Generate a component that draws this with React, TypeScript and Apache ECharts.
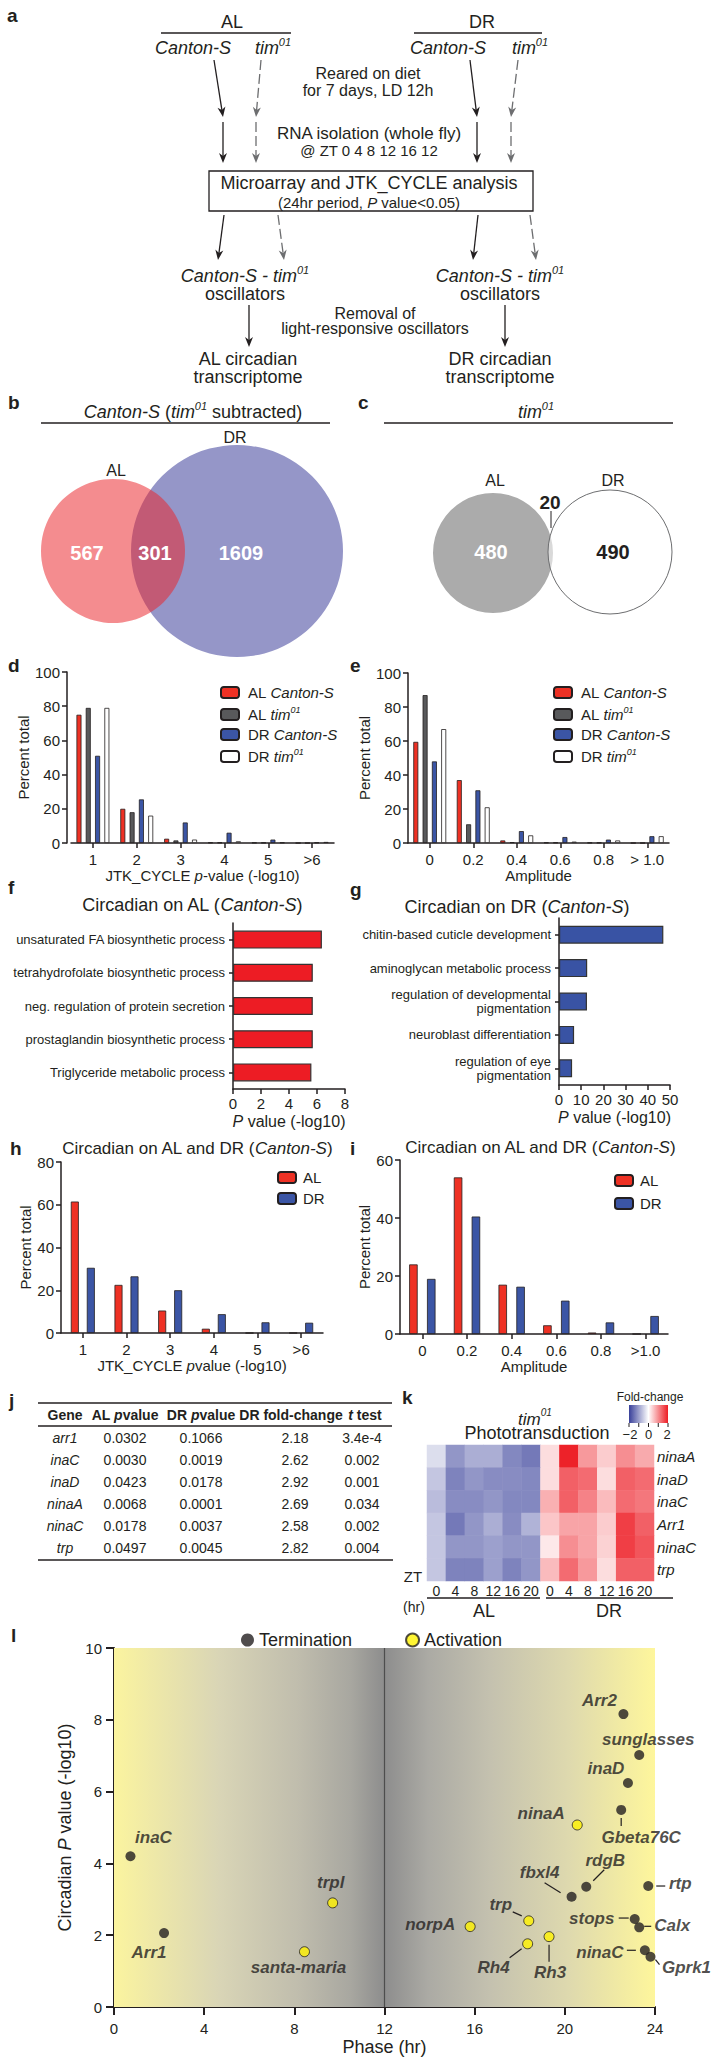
import React, { useEffect, useRef } from 'react';
import * as echarts from 'echarts';

const FONT = "'Liberation Sans', Arial, Helvetica, sans-serif";
const INK = '#231F20';
const RED = '#EE3124';
const GRAY = '#58595B';
const BLUE = '#3B55A5';

// ---------------- data ----------------
const vennBCounts = [567, 301, 1609]; // AL only, shared, DR only
const vennCCounts = [480, 20, 490];

const jtkCats = ['1', '2', '3', '4', '5', '>6'];
const dALCanton = [75, 20, 2.5, 0.3, 0.2, 0];
const dALTim = [79, 18, 1.5, 0.3, 0.2, 0];
const dDRCanton = [51, 25.5, 12, 6, 2, 0.3];
const dDRTim = [79, 16, 2, 1, 0.3, 0.6];

const ampCats = ['0', '0.2', '0.4', '0.6', '0.8', '> 1.0'];
const eALCanton = [59.5, 37, 1.5, 0.3, 0.2, 0];
const eALTim = [87, 11, 0.5, 0.3, 0.2, 0];
const eDRCanton = [48, 31, 7, 3.5, 2, 4];
const eDRTim = [67, 21, 4.5, 0.8, 1.5, 4];

const fTerms = [
  'unsaturated FA biosynthetic process',
  'tetrahydrofolate biosynthetic process',
  'neg. regulation of protein secretion',
  'prostaglandin biosynthetic process',
  'Triglyceride metabolic process',
];
const fValues = [6.35, 5.7, 5.7, 5.7, 5.6];

const gTerms = [
  'chitin-based cuticle development',
  'aminoglycan metabolic process',
  'regulation of developmental\npigmentation',
  'neuroblast differentiation',
  'regulation of eye\npigmentation',
];
const gValues = [47, 12.7, 12.6, 6.8, 5.9];

const hCats = ['1', '2', '3', '4', '5', '>6'];
const hAL = [61.5, 22.5, 10.5, 2, 0, 0];
const hDR = [30.5, 26.5, 20, 8.8, 5, 4.8];

const iCats = ['0', '0.2', '0.4', '0.6', '0.8', '>1.0'];
const iAL = [24, 54, 17, 3, 0.5, 0];
const iDR = [19, 40.5, 16.3, 11.5, 4, 6.2];

const tableGenes = ['arr1', 'inaC', 'inaD', 'ninaA', 'ninaC', 'trp'];
const tableALp = ['0.0302', '0.0030', '0.0423', '0.0068', '0.0178', '0.0497'];
const tableDRp = ['0.1066', '0.0019', '0.0178', '0.0001', '0.0037', '0.0045'];
const tableFold = ['2.18', '2.62', '2.92', '2.69', '2.58', '2.82'];
const tableT = ['3.4e-4', '0.002', '0.001', '0.034', '0.002', '0.004'];

const hmGenes = ['ninaA', 'inaD', 'inaC', 'Arr1', 'ninaC', 'trp'];
const hmCols = ['AL 0', 'AL 4', 'AL 8', 'AL 12', 'AL 16', 'AL 20', 'DR 0', 'DR 4', 'DR 8', 'DR 12', 'DR 16', 'DR 20'];
const hmValues = [
  [-0.35, -1.1, -0.85, -0.85, -1.25, -1.4, 0.3, 1.95, 0.9, 0.45, 1.0, 0.75],
  [-0.6, -1.3, -1.1, -1.2, -1.2, -1.25, 0.3, 1.4, 1.3, 0.3, 1.4, 1.3],
  [-0.7, -1.2, -1.2, -1.1, -1.25, -1.25, 0.7, 1.4, 1.1, 0.6, 1.3, 1.2],
  [-0.6, -1.4, -1.1, -0.85, -1.2, -0.8, 0.5, 0.8, 0.8, 0.45, 1.7, 1.4],
  [-0.6, -1.1, -1.1, -1.0, -1.1, -1.1, 0.2, 1.0, 0.8, 0.4, 1.7, 1.5],
  [-0.6, -1.3, -1.3, -1.0, -1.3, -1.1, 0.6, 1.3, 0.9, 0.3, 1.4, 1.4],
];

const termGenes = ['Arr2', 'sunglasses', 'inaD', 'Gbeta76C', 'inaC', 'rtp', 'rdgB', 'fbxl4', 'stops', 'Calx', 'Arr1', 'ninaC', 'Gprk1'];
const termPhase = [22.6, 23.3, 22.8, 22.5, 0.73, 23.7, 20.95, 20.3, 23.1, 23.3, 2.22, 23.55, 23.8];
const termP = [8.16, 7.02, 6.24, 5.49, 4.2, 3.37, 3.35, 3.07, 2.45, 2.22, 2.06, 1.58, 1.4];
const actGenes = ['ninaA', 'trpl', 'trp', 'norpA', 'Rh3', 'Rh4', 'santa-maria'];
const actPhase = [20.55, 9.7, 18.4, 15.8, 19.3, 18.35, 8.45];
const actP = [5.07, 2.9, 2.4, 2.24, 1.96, 1.76, 1.54];

// label offsets (px) for panel l
const labelOffsets: Record<string, number[]> = {
  Arr2: [-24, -14], sunglasses: [9, -15], inaD: [-22, -14], Gbeta76C: [20, 28], inaC: [23, -19],
  rtp: [32, -3], rdgB: [19, -26], fbxl4: [-32, -24], stops: [-43, -1], Calx: [33, -2], Arr1: [-15, 19],
  ninaC: [-45, 2], Gprk1: [36, 11], ninaA: [-36, -11], trpl: [-2, -20], trp: [-28, -16], norpA: [-40, -2],
  Rh3: [1, 36], Rh4: [-34, 24], 'santa-maria': [-6, 16],
};
const leaderSegs: Record<string, number[][]> = {
  Gbeta76C: [[0, 8], [0, 16]], rdgB: [[18, -17], [7, -6]], fbxl4: [[-27, -14], [-11, -4]],
  rtp: [[8, 0], [17, 0]], trp: [[-16, -9], [-7, -5]], stops: [[-16, -1], [-6, -1]],
  Calx: [[5, -1], [12, -1]], ninaC: [[-18, 0], [-9, 0]], Gprk1: [[5, 3], [9, 8]],
  Rh4: [[-18, 14], [-6, 5]], Rh3: [[0, 8], [0, 25]],
};

// ---------------- helpers ----------------
function gRich(size: number, bold = false, color = INK) {
  const fw = bold ? 'bold' : 'normal';
  return {
    n: { fontSize: size, fontFamily: FONT, fontWeight: fw, lineHeight: size + 6, fill: color },
    i: { fontSize: size, fontFamily: FONT, fontWeight: fw, fontStyle: 'italic', lineHeight: size + 6, fill: color },
    b: { fontSize: size, fontFamily: FONT, fontWeight: 'bold', lineHeight: size + 6, fill: color },
    bi: { fontSize: size, fontFamily: FONT, fontWeight: 'bold', fontStyle: 'italic', lineHeight: size + 6, fill: color },
    s: { fontSize: Math.round(size * 0.6), fontFamily: FONT, fontWeight: fw, fontStyle: 'italic', verticalAlign: 'top', lineHeight: Math.round(size * 0.6) + 1, fill: color },
  };
}

function txt(x: number, y: number, text: string, size: number, o: any = {}) {
  return {
    type: 'text', x, y, z: 50,
    style: {
      text, fontSize: size, fontFamily: FONT, fill: o.fill || INK,
      fontWeight: o.bold ? 'bold' : 'normal', fontStyle: o.italic ? 'italic' : 'normal',
      align: o.align || 'center', verticalAlign: o.va || 'middle',
      rich: o.rich ? gRich(size, !!o.bold, o.fill || INK) : undefined,
    },
  };
}
function ln(x1: number, y1: number, x2: number, y2: number, w = 1.3, color = INK, dash?: number[]) {
  return { type: 'line', z: 50, shape: { x1, y1, x2, y2 }, style: { stroke: color, lineWidth: w, lineDash: dash } };
}
function arrow(x1: number, y1: number, x2: number, y2: number, dashed = false) {
  const color = dashed ? '#6D6E70' : INK;
  const a = Math.atan2(y2 - y1, x2 - x1);
  const L = 10, W = 4;
  const bx = x2 - L * Math.cos(a), by = y2 - L * Math.sin(a);
  const px = -Math.sin(a) * W, py = Math.cos(a) * W;
  const nx = bx + 3 * Math.cos(a), ny = by + 3 * Math.sin(a);
  return [
    ln(x1, y1, nx, ny, 1.3, color, dashed ? [10, 4] : undefined),
    { type: 'polygon', z: 50, shape: { points: [[x2, y2], [bx + px, by + py], [nx, ny], [bx - px, by - py]] }, style: { fill: color } },
  ];
}
function panel(x: number, y: number, l: string) {
  return txt(x, y, l, 19, { bold: true, align: 'left' });
}

function buildGraphic() {
  const g: any[] = [];
  // ---- panel a ----
  g.push(panel(7, 15, 'a'));
  g.push(txt(232, 22, 'AL', 18), txt(482, 22, 'DR', 18));
  g.push(ln(161, 33, 291, 33), ln(414, 33, 542, 33));
  g.push(txt(193, 48, '{i|Canton-S}', 18, { rich: true }), txt(273, 48, '{i|tim}{s|01}', 18, { rich: true }));
  g.push(txt(448, 48, '{i|Canton-S}', 18, { rich: true }), txt(530, 48, '{i|tim}{s|01}', 18, { rich: true }));
  g.push(txt(368, 73, 'Reared on diet', 16), txt(368, 90, 'for 7 days, LD 12h', 16));
  g.push(...arrow(214, 60, 223, 117), ...arrow(261, 60, 256, 117, true));
  g.push(...arrow(223, 122, 223, 163), ...arrow(256, 122, 256, 163, true));
  g.push(...arrow(470, 60, 477, 117), ...arrow(518, 60, 511, 117, true));
  g.push(...arrow(477, 122, 477, 163), ...arrow(511, 122, 511, 163, true));
  g.push(txt(369, 133, 'RNA isolation (whole fly)', 17), txt(369, 150, '@ ZT 0 4 8 12 16 12', 15));
  g.push({ type: 'rect', z: 50, shape: { x: 209, y: 171, width: 324, height: 40 }, style: { fill: 'none', stroke: INK, lineWidth: 1.3 } });
  g.push(txt(369, 183, 'Microarray and JTK_CYCLE analysis', 18), txt(369, 202, '{n|(24hr period, }{i|P}{n| value<0.05)}', 15, { rich: true }));
  g.push(...arrow(224, 215, 218, 260), ...arrow(278, 215, 284, 260, true));
  g.push(...arrow(478, 215, 473, 260), ...arrow(530, 215, 536, 260, true));
  g.push(txt(245, 276, '{i|Canton-S - tim}{s|01}', 18, { rich: true }), txt(245, 294, 'oscillators', 18));
  g.push(txt(500, 276, '{i|Canton-S - tim}{s|01}', 18, { rich: true }), txt(500, 294, 'oscillators', 18));
  g.push(txt(375, 313, 'Removal of', 16), txt(375, 328, 'light-responsive oscillators', 16));
  g.push(...arrow(249, 305, 249, 347), ...arrow(505, 305, 505, 347));
  g.push(txt(248, 359, 'AL circadian', 18), txt(248, 377, 'transcriptome', 18));
  g.push(txt(500, 359, 'DR circadian', 18), txt(500, 377, 'transcriptome', 18));

  // ---- panel b ----
  g.push(panel(8, 402, 'b'));
  g.push(txt(193, 412, '{i|Canton-S}{n| (}{i|tim}{s|01}{n| subtracted)}', 18, { rich: true }));
  g.push(ln(41, 423, 330, 423));
  g.push(txt(235, 437, 'DR', 16), txt(116, 470, 'AL', 16));
  g.push({ type: 'circle', z: 20, shape: { cx: 237, cy: 551, r: 106 }, style: { fill: '#9596C8' } });
  g.push({ type: 'circle', z: 21, shape: { cx: 113, cy: 551, r: 72 }, style: { fill: 'rgba(234,38,43,0.53)' } });
  g.push(txt(87, 553, String(vennBCounts[0]), 20, { bold: true, fill: '#fff' }));
  g.push(txt(155, 553, String(vennBCounts[1]), 20, { bold: true, fill: '#fff' }));
  g.push(txt(241, 553, String(vennBCounts[2]), 20, { bold: true, fill: '#fff' }));

  // ---- panel c ----
  g.push(panel(358, 402, 'c'));
  g.push(txt(536, 412, '{i|tim}{s|01}', 18, { rich: true }));
  g.push(ln(384, 423, 673, 423));
  g.push(txt(495, 480, 'AL', 16), txt(613, 480, 'DR', 16));
  g.push({ type: 'circle', z: 20, shape: { cx: 493, cy: 553, r: 60 }, style: { fill: '#ABABAB' } });
  g.push({ type: 'circle', z: 21, shape: { cx: 610, cy: 552, r: 62 }, style: { fill: 'rgba(255,255,255,0.55)', stroke: '#6D6E70', lineWidth: 1 } });
  g.push(txt(491, 552, String(vennCCounts[0]), 20, { bold: true, fill: '#fff' }));
  g.push(txt(550, 502, String(vennCCounts[1]), 19, { bold: true }));
  g.push(ln(551, 511, 551, 528, 1));
  g.push(txt(613, 552, String(vennCCounts[2]), 20, { bold: true }));

  // ---- panel labels & titles d-i ----
  g.push(panel(8, 665, 'd'), panel(350, 665, 'e'));
  g.push(panel(8, 887, 'f'), panel(350, 889, 'g'));
  g.push(txt(192, 905, '{n|Circadian on AL (}{i|Canton-S}{n|)}', 18, { rich: true }));
  g.push(txt(517, 907, '{n|Circadian on DR (}{i|Canton-S}{n|)}', 18, { rich: true }));
  g.push(panel(10, 1148, 'h'), panel(350, 1148, 'i'));
  g.push(txt(197, 1148, '{n|Circadian on AL and DR (}{i|Canton-S}{n|)}', 17, { rich: true }));
  g.push(txt(540, 1147, '{n|Circadian on AL and DR (}{i|Canton-S}{n|)}', 17, { rich: true }));

  // ---- panel j (table) ----
  g.push(panel(9, 1400, 'j'));
  const cols = [65, 125, 201, 295, 362];
  g.push(ln(38, 1403, 392, 1403, 1.5), ln(38, 1426, 392, 1426, 1.5), ln(38, 1560, 393, 1560, 1.5));
  const hy = 1415;
  g.push(txt(cols[0], hy, '{b|Gene}', 14, { rich: true, bold: true }));
  g.push(txt(cols[1], hy, '{b|AL }{bi|p}{b|value}', 14, { rich: true, bold: true }));
  g.push(txt(cols[2], hy, '{b|DR }{bi|p}{b|value}', 14, { rich: true, bold: true }));
  g.push(txt(cols[3] - 4, hy, '{b|DR fold-change}', 14, { rich: true, bold: true }));
  g.push(txt(cols[4] + 3, hy, '{bi|t}{b| test}', 14, { rich: true, bold: true }));
  tableGenes.forEach((gene, r) => {
    const y = 1438 + r * 22;
    g.push(txt(cols[0], y, gene, 14, { italic: true }));
    g.push(txt(cols[1], y, tableALp[r], 14));
    g.push(txt(cols[2], y, tableDRp[r], 14));
    g.push(txt(cols[3], y, tableFold[r], 14));
    g.push(txt(cols[4], y, tableT[r], 14));
  });

  // ---- panel k ----
  g.push(panel(402, 1397, 'k'));
  g.push(txt(650, 1397, 'Fold-change', 12));
  g.push({
    type: 'rect', z: 50, shape: { x: 629, y: 1405, width: 39, height: 18 },
    style: { fill: new echarts.graphic.LinearGradient(0, 0, 1, 0, [
      { offset: 0, color: '#39409A' }, { offset: 0.5, color: '#ffffff' }, { offset: 1, color: '#ED1C24' }]) },
  });
  [-2, -1, 0, 1, 2].forEach((v) => {
    const x = 629 + ((v + 2) / 4) * 39;
    g.push(ln(x, 1423, x, 1427, 1));
  });
  g.push(txt(630, 1434, '−2', 13), txt(648.5, 1434, '0', 13), txt(667, 1434, '2', 13));
  g.push(txt(535, 1419, '{i|tim}{s|01}', 17, { rich: true }), txt(537, 1433, 'Phototransduction', 18));
  g.push(txt(413, 1576, 'ZT', 15));
  g.push(txt(414, 1607, '(hr)', 14));
  g.push(ln(427, 1598, 540, 1598, 1.3), ln(546, 1598, 673, 1598, 1.3));
  g.push(txt(484, 1611, 'AL', 18), txt(609, 1611, 'DR', 18));

  // ---- panel l ----
  g.push(panel(11, 1635, 'l'));
  return g;
}

const legendRich = {
  n: { fontSize: 15, fontFamily: FONT, color: INK, lineHeight: 19 },
  i: { fontSize: 15, fontFamily: FONT, color: INK, fontStyle: 'italic', lineHeight: 19 },
  s: { fontSize: 9, fontFamily: FONT, color: INK, fontStyle: 'italic', verticalAlign: 'top', lineHeight: 10 },
};
function legendLabel(name: string) {
  const [grp, strain] = name.split(' ');
  if (!strain) return `{n|${grp}}`;
  if (strain === 'tim01') return `{n|${grp} }{i|tim}{s|01}`;
  return `{n|${grp} }{i|${strain}}`;
}

const aLine = { show: true, lineStyle: { color: INK, width: 1.5 } };
const aTick = { show: true, length: 5, lineStyle: { color: INK, width: 1.5 } };
const lbl = (size: number, margin: number, extra: any = {}) => ({ fontSize: size, color: INK, fontFamily: FONT, margin, ...extra });
const nameStyle = (size: number) => ({
  fontSize: size, color: INK, fontFamily: FONT,
  rich: { i: { fontSize: size, color: INK, fontFamily: FONT, fontStyle: 'italic' } },
});

function bar(name: string, data: number[], color: string, xi: number, width: number, gap: string) {
  return {
    type: 'bar', name, data, xAxisIndex: xi, yAxisIndex: xi, barWidth: width, barGap: gap, silent: true,
    itemStyle: { color, borderColor: INK, borderWidth: 0.8 },
  };
}

function catX(gi: number, data: string[], name: string, nameGap: number, margin: number) {
  return {
    gridIndex: gi, type: 'category', data, axisLine: aLine, axisTick: { ...aTick, alignWithLabel: true },
    axisLabel: lbl(15, margin, { interval: 0 }), name, nameLocation: 'middle', nameGap, nameTextStyle: nameStyle(15),
  };
}
function valY(gi: number, max: number, interval: number, nameGap: number, offset = 0) {
  return {
    gridIndex: gi, type: 'value', min: 0, max, interval, offset, splitLine: { show: false },
    axisLine: aLine, axisTick: aTick, axisLabel: lbl(15, 7),
    name: 'Percent total', nameLocation: 'middle', nameGap, nameTextStyle: nameStyle(15),
  };
}

function buildOption() {
  const lGradLeft = { type: 'linear', x: 0, y: 0, x2: 1, y2: 0, colorStops: [
    { offset: 0, color: '#FBF49F' }, { offset: 0.39, color: '#D9D5B6' }, { offset: 0.68, color: '#C0BDAD' },
    { offset: 0.875, color: '#A8A7A0' }, { offset: 1, color: '#8D8D8D' }] };
  const lGradRight = { type: 'linear', x: 0, y: 0, x2: 1, y2: 0, colorStops: [
    { offset: 0, color: '#8D8D8D' }, { offset: 0.16, color: '#ABAAA4' }, { offset: 0.39, color: '#C4C1AF' },
    { offset: 0.68, color: '#DED9AE' }, { offset: 1, color: '#FEF69C' }] };

  const hmData: number[][] = [];
  hmValues.forEach((row, r) => row.forEach((v, c) => hmData.push([c, r, v])));

  const ptLabel = (name: string) => ({ offset: labelOffsets[name] || [0, 0] });

  return {
    animation: false,
    backgroundColor: '#ffffff',
    textStyle: { fontFamily: FONT },
    grid: [
      { left: 71, top: 672, width: 263, height: 171 },   // d
      { left: 408, top: 673, width: 261, height: 170 },  // e
      { left: 233, top: 923, width: 112, height: 166 },  // f
      { left: 559, top: 918, width: 111, height: 167 },  // g
      { left: 61, top: 1162, width: 262, height: 171 },  // h
      { left: 400, top: 1160, width: 268, height: 174 }, // i
      { left: 427, top: 1445, width: 227, height: 136 }, // k
      { left: 114, top: 1648, width: 541, height: 359 }, // l
    ],
    legend: [
      { data: ['AL Canton-S', 'AL tim01', 'DR Canton-S', 'DR tim01'], left: 215, top: 680, orient: 'vertical',
        itemWidth: 18, itemHeight: 11, itemGap: 5, formatter: legendLabel, selectedMode: false,
        textStyle: { rich: legendRich, padding: [0, 0, 0, 4] } },
      { data: ['AL Canton-S', 'AL tim01', 'DR Canton-S', 'DR tim01'], left: 548, top: 680, orient: 'vertical',
        itemWidth: 18, itemHeight: 11, itemGap: 5, formatter: legendLabel, selectedMode: false,
        textStyle: { rich: legendRich, padding: [0, 0, 0, 4] } },
      { data: ['AL', 'DR'], left: 272, top: 1165, orient: 'vertical', itemWidth: 18, itemHeight: 11, itemGap: 6,
        selectedMode: false, textStyle: { fontSize: 15, color: INK, fontFamily: FONT, padding: [0, 0, 0, 2] } },
      { data: ['AL', 'DR'], left: 609, top: 1168, orient: 'vertical', itemWidth: 18, itemHeight: 11, itemGap: 8,
        selectedMode: false, textStyle: { fontSize: 15, color: INK, fontFamily: FONT, padding: [0, 0, 0, 2] } },
      { data: ['Termination', 'Activation'], left: 236, top: 1626, orient: 'horizontal', icon: 'circle',
        itemWidth: 13, itemHeight: 13, itemGap: 53, selectedMode: false,
        textStyle: { fontSize: 18, color: INK, fontFamily: FONT } },
    ],
    xAxis: [
      catX(0, jtkCats, 'JTK_CYCLE {i|p}-value (-log10)', 24, 9),
      catX(1, ampCats, 'Amplitude', 24, 9),
      { gridIndex: 2, type: 'value', min: 0, max: 8, interval: 2, splitLine: { show: false }, axisLine: aLine, axisTick: aTick,
        axisLabel: lbl(15, 7), name: '{i|P} value (-log10)', nameLocation: 'middle', nameGap: 24, nameTextStyle: nameStyle(16) },
      { gridIndex: 3, type: 'value', min: 0, max: 50, interval: 10, splitLine: { show: false }, axisLine: aLine, axisTick: aTick,
        axisLabel: lbl(15, 7), name: '{i|P} value (-log10)', nameLocation: 'middle', nameGap: 24, nameTextStyle: nameStyle(16) },
      catX(4, hCats, 'JTK_CYCLE {i|p}value (-log10)', 23, 9),
      catX(5, iCats, 'Amplitude', 23, 9),
      { gridIndex: 6, type: 'category', data: hmCols, axisLine: { show: false }, axisTick: { show: false },
        axisLabel: lbl(14, 3, { interval: 0, formatter: (v: string) => v.split(' ')[1] }) },
      { gridIndex: 7, type: 'value', min: 0, max: 24, interval: 4, splitLine: { show: false },
        axisLine: { show: true, lineStyle: { color: INK, width: 2 } }, axisTick: { show: true, length: 8, lineStyle: { color: INK, width: 2 } },
        axisLabel: lbl(15, 14), name: 'Phase (hr)', nameLocation: 'middle', nameGap: 31, nameTextStyle: nameStyle(18) },
    ],
    yAxis: [
      valY(0, 100, 20, 31, 4),
      valY(1, 100, 20, 29, 0),
      { gridIndex: 2, type: 'category', inverse: true, data: fTerms, axisLine: aLine,
        axisTick: { show: true, length: 4, alignWithLabel: true, lineStyle: { color: INK, width: 1.5 } }, axisLabel: lbl(13, 8, { interval: 0 }) },
      { gridIndex: 3, type: 'category', inverse: true, data: gTerms, axisLine: aLine,
        axisTick: { show: true, length: 4, alignWithLabel: true, lineStyle: { color: INK, width: 1.5 } },
        axisLabel: lbl(13, 8, { interval: 0, lineHeight: 14, align: 'right' }) },
      valY(4, 80, 20, 26, 0),
      valY(5, 60, 20, 27, 0),
      { gridIndex: 6, type: 'category', inverse: true, position: 'right', data: hmGenes, axisLine: { show: false },
        axisTick: { show: false }, axisLabel: lbl(15, 3, { interval: 0, fontStyle: 'italic' }) },
      { gridIndex: 7, type: 'value', min: 0, max: 10, interval: 2, splitLine: { show: false },
        axisLine: { show: true, lineStyle: { color: INK, width: 2 } }, axisTick: { show: true, length: 8, lineStyle: { color: INK, width: 2 } },
        axisLabel: lbl(15, 12), name: 'Circadian {i|P} value (-log10)', nameLocation: 'middle', nameGap: 30, nameTextStyle: nameStyle(18) },
    ],
    visualMap: [
      { type: 'continuous', min: -2, max: 2, seriesIndex: 14, show: false, inRange: { color: ['#39409A', '#ffffff', '#ED1C24'] } },
    ],
    series: [
      bar('AL Canton-S', dALCanton, RED, 0, 5, '86%'),
      bar('AL tim01', dALTim, GRAY, 0, 5, '86%'),
      bar('DR Canton-S', dDRCanton, BLUE, 0, 5, '86%'),
      bar('DR tim01', dDRTim, '#ffffff', 0, 5, '86%'),
      bar('AL Canton-S', eALCanton, RED, 1, 5, '86%'),
      bar('AL tim01', eALTim, GRAY, 1, 5, '86%'),
      bar('DR Canton-S', eDRCanton, BLUE, 1, 5, '86%'),
      bar('DR tim01', eDRTim, '#ffffff', 1, 5, '86%'),
      { type: 'bar', name: 'f', data: fValues, xAxisIndex: 2, yAxisIndex: 2, barWidth: 18, silent: true,
        itemStyle: { color: '#ED1C24', borderColor: '#333', borderWidth: 1.2 } },
      { type: 'bar', name: 'g', data: gValues, xAxisIndex: 3, yAxisIndex: 3, barWidth: 18, silent: true,
        itemStyle: { color: '#3953A4', borderColor: '#333', borderWidth: 1.2 } },
      bar('AL', hAL, RED, 4, 8, '100%'),
      bar('DR', hDR, BLUE, 4, 8, '100%'),
      bar('AL', iAL, RED, 5, 8.5, '110%'),
      bar('DR', iDR, BLUE, 5, 8.5, '110%'),
      { type: 'heatmap', data: hmData, xAxisIndex: 6, yAxisIndex: 6, silent: true },
      { type: 'line', name: 'bg', data: [], xAxisIndex: 7, yAxisIndex: 7, z: 1, silent: true,
        markArea: { silent: true, data: [
          [{ xAxis: 0, itemStyle: { color: lGradLeft } }, { xAxis: 12 }],
          [{ xAxis: 12, itemStyle: { color: lGradRight } }, { xAxis: 24 }],
        ] },
        markLine: { silent: true, symbol: ['none', 'none'], label: { show: false },
          lineStyle: { color: '#4D4D4D', width: 1.2, type: 'solid' }, data: [{ xAxis: 12 }] } },
      { type: 'scatter', name: 'Termination', xAxisIndex: 7, yAxisIndex: 7, z: 5, symbolSize: 10, silent: true,
        itemStyle: { color: INK },
        data: termGenes.map((n, k) => ({ name: n, value: [termPhase[k], termP[k]], label: ptLabel(n) })),
        label: { show: true, position: 'inside', formatter: '{b}', fontSize: 17, fontWeight: 'bold', fontStyle: 'italic', color: INK, fontFamily: FONT } },
      { type: 'scatter', name: 'Activation', xAxisIndex: 7, yAxisIndex: 7, z: 5, symbolSize: 10, silent: true,
        itemStyle: { color: '#FFF200', borderColor: INK, borderWidth: 1 },
        data: actGenes.map((n, k) => ({ name: n, value: [actPhase[k], actP[k]], label: ptLabel(n) })),
        label: { show: true, position: 'inside', formatter: '{b}', fontSize: 17, fontWeight: 'bold', fontStyle: 'italic', color: INK, fontFamily: FONT } },
    ],
    graphic: { elements: buildGraphic() },
  };
}

export default function App() {
  const ref = useRef<HTMLDivElement>(null);
  useEffect(() => {
    document.body.style.margin = '0';
    const chart = echarts.init(ref.current as HTMLDivElement, null, { renderer: 'svg', width: 711, height: 2057 });
    chart.setOption(buildOption() as any);
    const leaders: any[] = [];
    Object.keys(leaderSegs).forEach((gene) => {
      let pt: number[];
      const ti = termGenes.indexOf(gene);
      if (ti >= 0) pt = [termPhase[ti], termP[ti]];
      else { const ai = actGenes.indexOf(gene); pt = [actPhase[ai], actP[ai]]; }
      const px = chart.convertToPixel({ gridIndex: 7 } as any, pt) as number[];
      const s = leaderSegs[gene];
      leaders.push({ type: 'line', z: 60, shape: { x1: px[0] + s[0][0], y1: px[1] + s[0][1], x2: px[0] + s[1][0], y2: px[1] + s[1][1] },
        style: { stroke: INK, lineWidth: 1.2 } });
    });
    chart.setOption({ graphic: { elements: [...buildGraphic(), ...leaders] } } as any);
    return () => chart.dispose();
  }, []);
  return <div ref={ref} style={{ position: 'absolute', left: 0, top: 0, width: 711, height: 2057 }} />;
}
